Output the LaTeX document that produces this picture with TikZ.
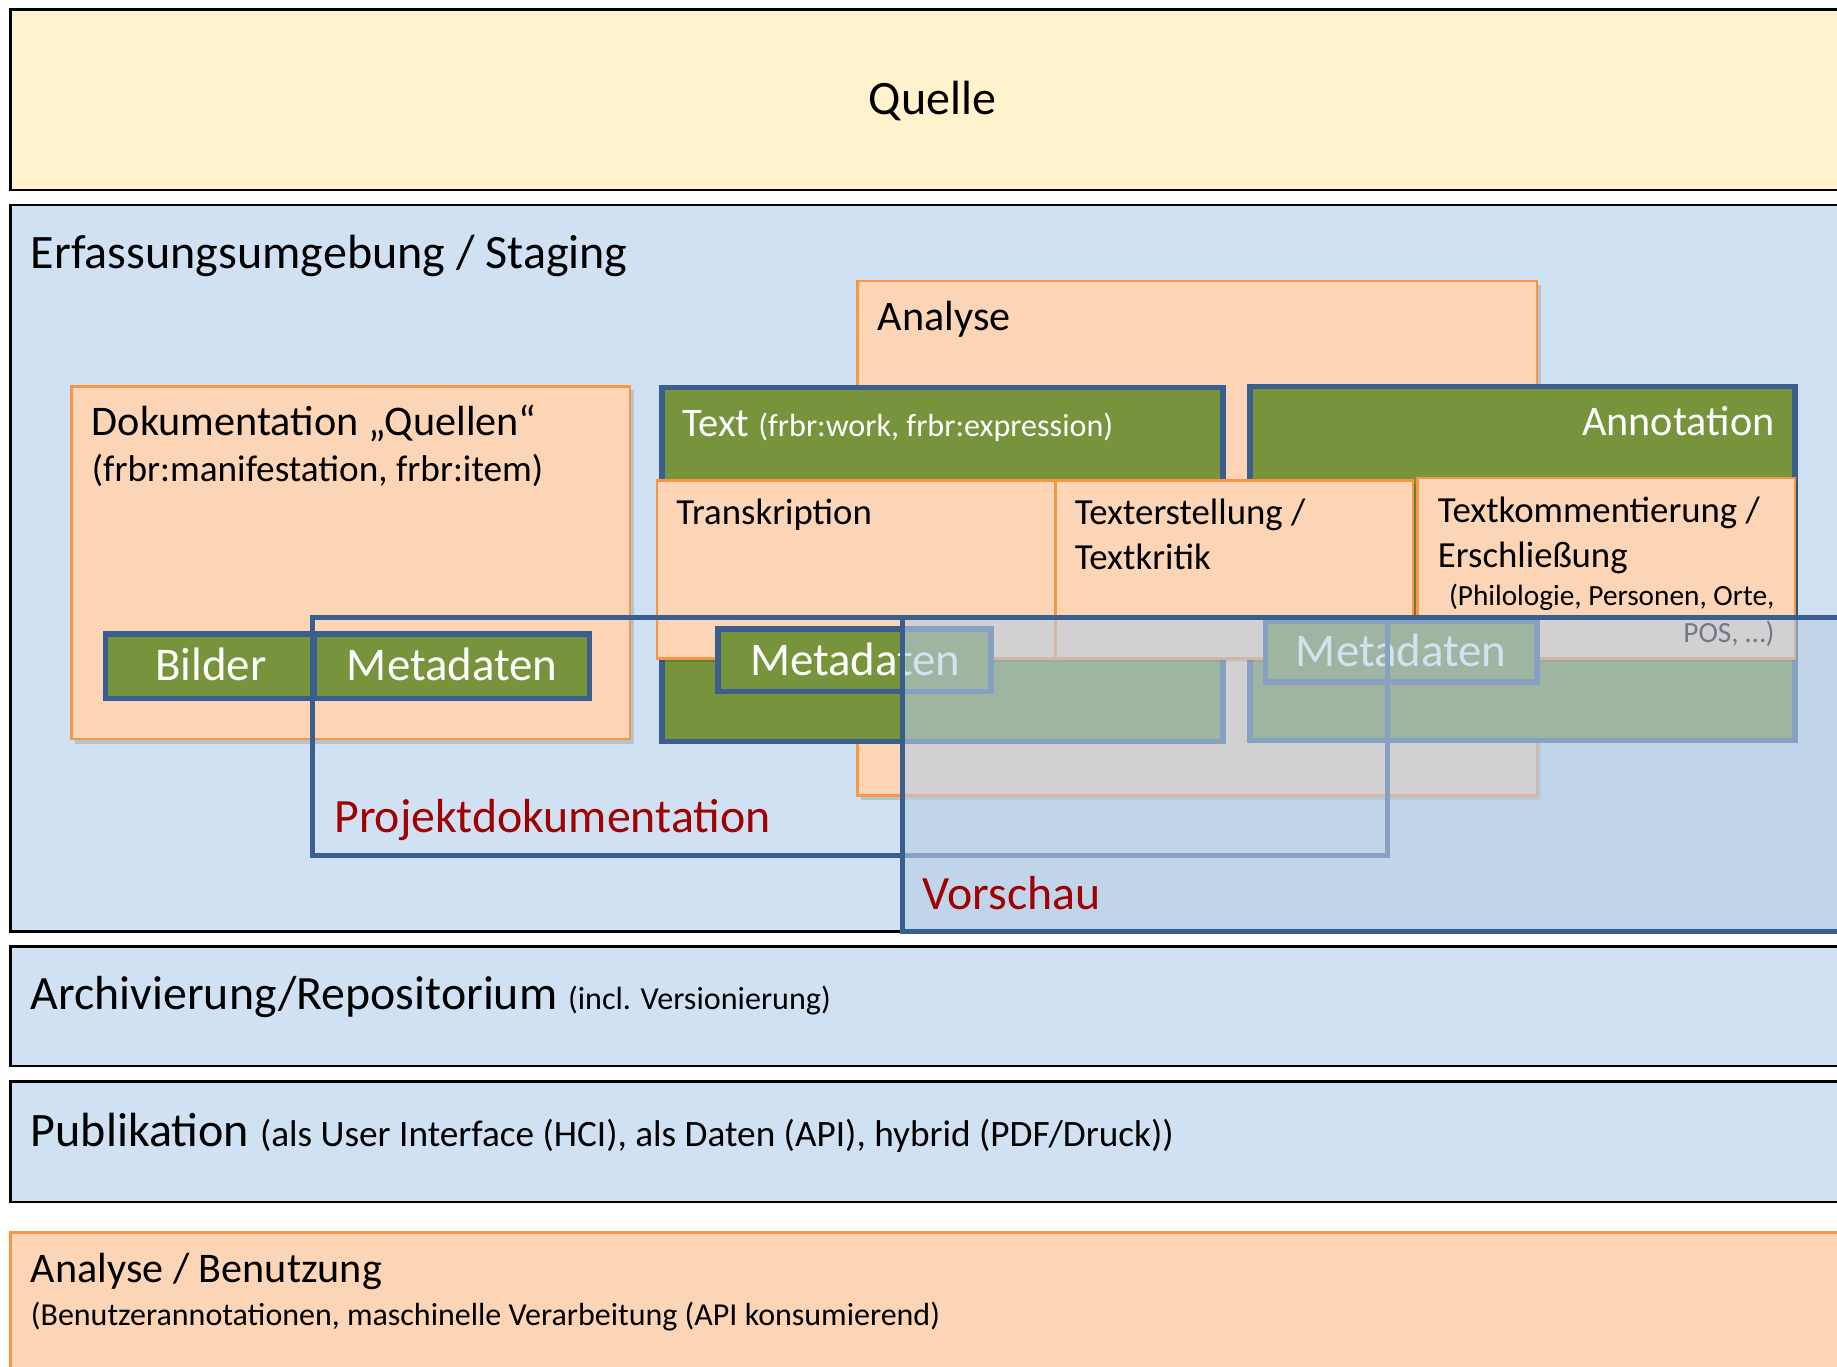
\documentclass[tikz,border=0pt]{standalone}
\usepackage{fontspec}
\setmainfont{Carlito}
\definecolor{quellefill}{HTML}{FFF2CC}
\definecolor{bandblue}{HTML}{CFE1F2}
\definecolor{peach}{HTML}{FBD5B5}
\definecolor{orangeline}{HTML}{F79646}
\definecolor{leaf}{HTML}{77933C}
\definecolor{navy}{HTML}{3A5F8E}
\definecolor{darkred}{HTML}{A00000}
\definecolor{veil}{HTML}{B9CDE5}
\newcommand\SzXL{\fontsize{20.5}{24}\selectfont}
\newcommand\SzL{\fontsize{20}{24}\selectfont}
\newcommand\SzLr{\fontsize{20.4}{24}\selectfont}
\newcommand\SzM{\fontsize{18}{22}\selectfont}
\newcommand\SzMs{\fontsize{17.3}{20}\selectfont}
\newcommand\SzS{\fontsize{15.7}{19}\selectfont}
\newcommand\SzXS{\fontsize{15.9}{19}\selectfont}
\newcommand\SzXXS{\fontsize{13.7}{16}\selectfont}
\newcommand\SzT{\fontsize{12.5}{15}\selectfont}
\tikzset{
  band/.style={draw=black, line width=1pt},
  peachbox/.style={fill=peach, draw=orangeline, line width=1pt},
  greenbox/.style={fill=leaf, draw=navy, line width=2.3pt},
  outlinebox/.style={draw=navy, line width=2.2pt},
  dropshade/.style={fill=black, fill opacity=0.13, draw=none},
  lbl/.style={inner sep=0pt, text=black},
  wlbl/.style={inner sep=0pt, text=white},
  rlbl/.style={inner sep=0pt, text=darkred},
}
\begin{document}
\begin{tikzpicture}[x=0.5pt,y=-0.5pt]
\useasboundingbox (0,0) rectangle (1568,1166);
\clip (0,0) rectangle (1568,1166);
\fill[white] (0,0) rectangle (1568,1166);

% ---------------- layers ----------------
\draw[band, fill=quellefill] (9,8) rectangle (1600,162);
\node[lbl, anchor=base] (quelle) at (796,98) {\SzXL Quelle};

\draw[band, fill=bandblue] (9,175) rectangle (1600,795);
\node[lbl, anchor=base west] (staging) at (26,229) {\SzXL Erfassungsumgebung / Staging};

\draw[band, fill=bandblue] (9,808) rectangle (1600,910);
\node[lbl, anchor=base west] (archiv) at (26,862) {\fontsize{20.4}{24}\selectfont Archivierung/Repositorium \SzXXS(incl. Versionierung)};

\draw[band, fill=bandblue] (9,923) rectangle (1600,1026);
\node[lbl, anchor=base west] (publik) at (26,979) {\SzXL Publikation \SzXS(als User Interface (HCI), als Daten (API), hybrid (PDF/Druck))};

\draw[peachbox] (9,1052) rectangle (1600,1200);
\node[lbl, anchor=base west] (benutzung) at (26,1095) {\SzM Analyse / Benutzung};
\node[lbl, anchor=base west] (benutzungsub) at (26,1131) {\fontsize{13.65}{16}\selectfont (Benutzerannotationen, maschinelle Verarbeitung (API konsumierend)};

% ---------------- Analyse ----------------
\fill[dropshade] (735,243) rectangle (1315,683);
\draw[peachbox] (732,240) rectangle (1312,679);
\node[lbl, anchor=base west] (analyse) at (749,282) {\SzM Analyse};

% ---------------- Dokumentation ----------------
\fill[dropshade] (64,333) rectangle (541,635);
\draw[peachbox] (61,330) rectangle (538,631);
\node[lbl, anchor=base west] (doku) at (78,372) {\SzM Dokumentation „Quellen“};
\node[lbl, anchor=base west] (dokusub) at (78,411) {\fontsize{15.9}{19}\selectfont (frbr:manifestation, frbr:item)};
\draw[greenbox] (90,541) rectangle (268,596);
\node[wlbl, anchor=base] (bilder) at (180,581) {\SzL Bilder};
\draw[greenbox] (268,541) rectangle (503,596);
\node[wlbl, anchor=base] (metaA) at (386,581) {\SzL Metadaten};

% ---------------- Text / Annotation ----------------
\draw[greenbox] (565,331) rectangle (1044,633);
\node[wlbl, anchor=base west] (textlbl) at (582,373) {\SzMs Text \SzXXS(frbr:work, frbr:expression)};
\draw[greenbox] (1067,330) rectangle (1532,632);
\node[wlbl, anchor=base east] (annot) at (1515,372) {\SzM Annotation};

\fill[dropshade] (563,413) rectangle (904,565);
\draw[peachbox] (561,410) rectangle (901,562);
\node[lbl, anchor=base west] (transkr) at (577,448) {\SzS Transkription};

\fill[dropshade] (904,413) rectangle (1209,565);
\draw[peachbox] (901,410) rectangle (1206,562);
\node[lbl, anchor=base west] (texterst) at (917,448) {\SzS Texterstellung /};
\node[lbl, anchor=base west] (textkrit) at (917,486) {\SzS Textkritik};

\fill[dropshade] (1213,411) rectangle (1535,565);
\draw[peachbox] (1210,408) rectangle (1532,562);
\node[lbl, anchor=base west] (textkomm) at (1227,446) {\SzS Textkommentierung /};
\node[lbl, anchor=base west] (erschl) at (1227,484) {\SzS Erschließung};
\node[lbl, anchor=base east] (philo) at (1515,517) {\SzT (Philologie, Personen, Orte,};
\node[lbl, anchor=base east] (pos) at (1515,548) {\SzT POS, …)};

\draw[greenbox] (613,537) rectangle (846,590);
\node[wlbl, anchor=base] (metaB) at (730,577) {\SzL Metadaten};
\draw[greenbox] (1080,530) rectangle (1312,582);
\node[wlbl, anchor=base] (metaC) at (1196,569) {\SzL Metadaten};

% ---------------- Projektdokumentation frame ----------------
\draw[outlinebox] (267,527) rectangle (1184,730);

% ---------------- Vorschau veil ----------------
\fill[veil, fill opacity=0.6] (770,527) rectangle (1600,795);
\draw[outlinebox] (1600,527) -- (770,527) -- (770,795) -- (1600,795);

\node[rlbl, anchor=base west] (projdoku) at (285,711) {\SzLr Projektdokumentation};
\node[rlbl, anchor=base west] (vorschau) at (787,776) {\SzLr Vorschau};
\end{tikzpicture}
\end{document}
